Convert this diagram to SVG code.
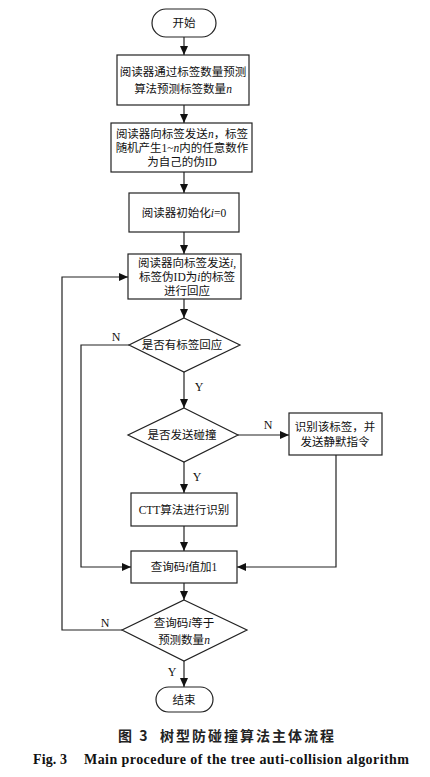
<svg xmlns="http://www.w3.org/2000/svg" width="430" height="777" viewBox="0 0 430 777">
<style>
.shape{fill:#fff;stroke:#222;stroke-width:1.2}
.t{font-family:"Liberation Serif","Noto Sans CJK SC",serif;font-size:11.5px;fill:#111;text-anchor:middle;dominant-baseline:central}
.v{font-family:"Liberation Serif",serif;font-style:italic}
.lbl{font-family:"Liberation Serif",serif;font-size:12px;fill:#111;text-anchor:middle;dominant-baseline:central}
.conn{fill:none;stroke:#222;stroke-width:1.2}
.cap1{font-family:"Noto Sans CJK SC",sans-serif;font-size:14px;font-weight:bold;fill:#222;letter-spacing:2px;dominant-baseline:central}
.cap2{font-family:"Liberation Serif",serif;font-size:14px;font-weight:bold;fill:#111;dominant-baseline:central}
</style>
<defs>
<marker id="ah" markerUnits="userSpaceOnUse" markerWidth="10" markerHeight="8" refX="9" refY="4" orient="auto">
<path d="M0,0 L9,4 L0,8 Z" fill="#111"/>
</marker>
</defs>
<rect width="430" height="777" fill="#fff"/>
<g id="connectors">
<line class="conn" x1="184" y1="37" x2="184" y2="55" marker-end="url(#ah)"/>
<line class="conn" x1="184" y1="105" x2="184" y2="123" marker-end="url(#ah)"/>
<line class="conn" x1="184" y1="172" x2="184" y2="193" marker-end="url(#ah)"/>
<line class="conn" x1="184" y1="232" x2="184" y2="254" marker-end="url(#ah)"/>
<line class="conn" x1="184" y1="299" x2="184" y2="318" marker-end="url(#ah)"/>
<line class="conn" x1="184" y1="372" x2="184" y2="408" marker-end="url(#ah)"/>
<polyline class="conn" points="129,345 81,345 81,567 131,567" marker-end="url(#ah)"/>
<line class="conn" x1="238" y1="435" x2="289" y2="435" marker-end="url(#ah)"/>
<polyline class="conn" points="336,455 336,567 237,567" marker-end="url(#ah)"/>
<line class="conn" x1="184" y1="462" x2="184" y2="493" marker-end="url(#ah)"/>
<line class="conn" x1="184" y1="526" x2="184" y2="551" marker-end="url(#ah)"/>
<line class="conn" x1="184" y1="583" x2="184" y2="600" marker-end="url(#ah)"/>
<polyline class="conn" points="122,630 62,630 62,277 128,277" marker-end="url(#ah)"/>
<line class="conn" x1="184" y1="661" x2="184" y2="687" marker-end="url(#ah)"/>
<text class="lbl" x="116" y="337">N</text>
<text class="lbl" x="199" y="387">Y</text>
<text class="lbl" x="268" y="425">N</text>
<text class="lbl" x="197" y="477">Y</text>
<text class="lbl" x="105" y="623">N</text>
<text class="lbl" x="172" y="672">Y</text>
</g>
<g id="start">
<rect class="shape" x="152" y="9" width="64" height="28" rx="14"/>
<text class="t" x="184" y="23">开始</text>
</g>
<g id="predict">
<rect class="shape" x="117" y="55" width="132" height="50"/>
<text class="t" x="183" y="72">阅读器通过标签数量预测</text>
<text class="t" x="183" y="89">算法预测标签数量<tspan class="v">n</tspan></text>
</g>
<g id="send-n">
<rect class="shape" x="111" y="123" width="141" height="49"/>
<text class="t" x="182" y="134">阅读器向标签发送<tspan class="v">n</tspan>，标签</text>
<text class="t" x="182" y="148">随机产生1~<tspan class="v">n</tspan>内的任意数作</text>
<text class="t" x="182" y="162">为自己的伪ID</text>
</g>
<g id="init">
<rect class="shape" x="129" y="193" width="110" height="39"/>
<text class="t" x="184" y="213">阅读器初始化<tspan class="v">i</tspan>=0</text>
</g>
<g id="send-i">
<rect class="shape" x="128" y="254" width="113" height="45"/>
<text class="t" x="187" y="263">阅读器向标签发送<tspan class="v">i</tspan>,</text>
<text class="t" x="187" y="277">标签伪ID为<tspan class="v">i</tspan>的标签</text>
<text class="t" x="187" y="291">进行回应</text>
</g>
<g id="any-reply">
<polygon class="shape" points="184,318 240,345 184,372 129,345"/>
<text class="t" x="182" y="345">是否有标签回应</text>
</g>
<g id="collision">
<polygon class="shape" points="184,408 238,435 184,462 128,435"/>
<text class="t" x="182" y="435">是否发送碰撞</text>
</g>
<g id="identify">
<rect class="shape" x="289" y="413" width="93" height="42"/>
<text class="t" x="335" y="427">识别该标签，并</text>
<text class="t" x="335" y="442">发送静默指令</text>
</g>
<g id="ctt">
<rect class="shape" x="131" y="493" width="106" height="33"/>
<text class="t" x="184" y="510">CTT算法进行识别</text>
</g>
<g id="increment">
<rect class="shape" x="131" y="551" width="106" height="32"/>
<text class="t" x="184" y="567">查询码<tspan class="v">i</tspan>值加1</text>
</g>
<g id="equal">
<polygon class="shape" points="184,600 247,630 184,661 122,630"/>
<text class="t" x="184" y="623">查询码<tspan class="v">i</tspan>等于</text>
<text class="t" x="184" y="640">预测数量<tspan class="v">n</tspan></text>
</g>
<g id="end">
<rect class="shape" x="156" y="687" width="57" height="25" rx="12.5"/>
<text class="t" x="184" y="700">结束</text>
</g>
<g id="caption">
<text class="cap1" x="118" y="735">图 3</text>
<text class="cap1" x="160" y="735">树型防碰撞算法主体流程</text>
<text class="cap2" x="33" y="759" textLength="34" lengthAdjust="spacing">Fig. 3</text>
<text class="cap2" x="84" y="759" textLength="325" lengthAdjust="spacing">Main procedure of the tree auti-collision algorithm</text>
</g>
</svg>
